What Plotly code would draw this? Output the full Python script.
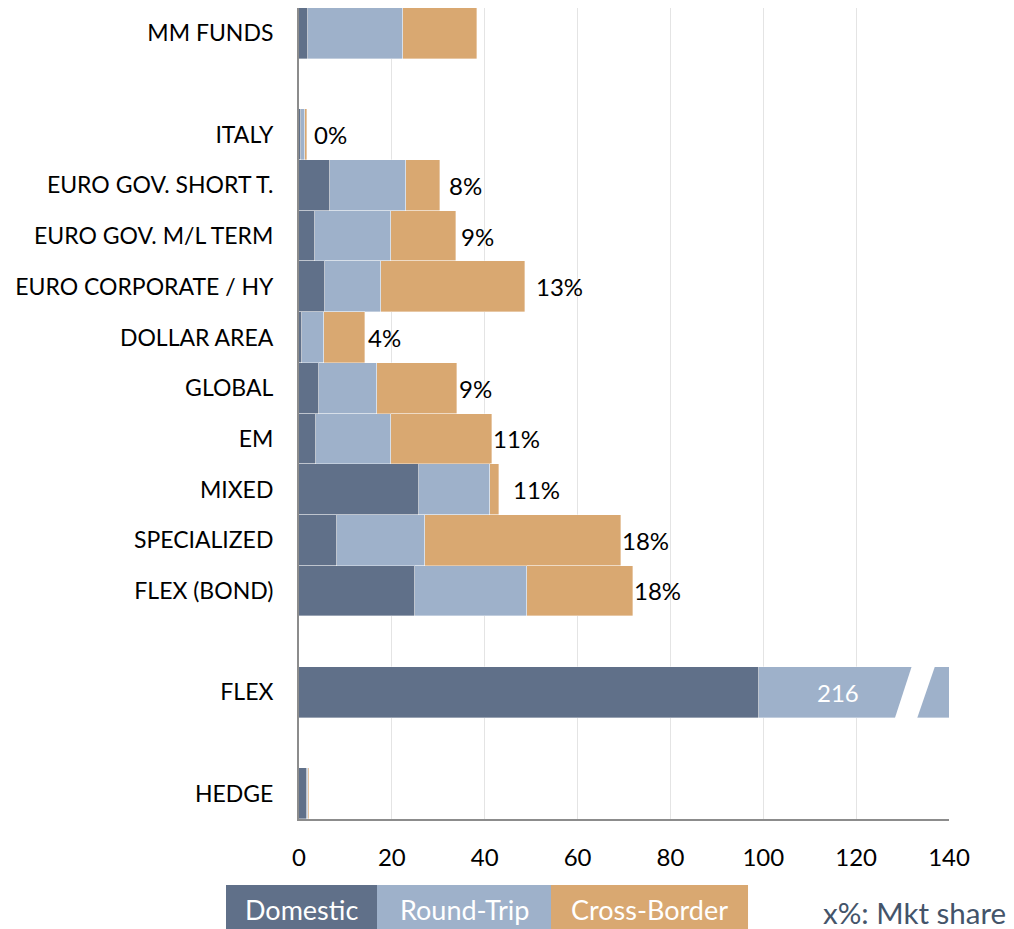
import plotly.graph_objects as go

# --- data ---
categories = ["MM FUNDS", "ITALY", "EURO GOV. SHORT T.", "EURO GOV. M/L TERM",
              "EURO CORPORATE / HY", "DOLLAR AREA", "GLOBAL", "EM", "MIXED",
              "SPECIALIZED", "FLEX (BOND)", "FLEX", "HEDGE"]
domestic = [1.9, 0.4, 6.7, 3.4, 5.6, 0.6, 4.4, 3.7, 25.8, 8.2, 25.0, 99.1, 1.8]
round_trip = [20.5, 0.95, 16.3, 16.4, 12.0, 4.7, 12.3, 16.1, 15.4, 19.0, 24.2, 116.9, 0.1]
cross_border = [16.0, 0.35, 7.3, 14.0, 31.1, 8.9, 17.3, 21.8, 1.9, 42.1, 22.7, 0.0, 0.3]
mkt_share = [None, "0%", "8%", "9%", "13%", "4%", "9%", "11%", "11%", "18%", "18%", None, None]
flex_label = "216"
series_names = ["Domestic", "Round-Trip", "Cross-Border"]

# --- layout / style ---
COLORS = ["#607089", "#9EB1CA", "#D9A871"]
FONT = "Lato"
gap_after = {"MM FUNDS", "FLEX (BOND)", "FLEX"}
label_pad = [0, 5, 7, 3, 9, 1, 0, -1, 12, -1, -1, 0, 0]  # px after bar end
X_MAX = 140
BREAK_X = 130  # where the FLEX bar is broken

# slot positions with blank rows between groups
ypos = []
slot = 0
for c in categories:
    ypos.append(slot)
    slot += 2 if c in gap_after else 1
n_slots = slot

fig = go.Figure()
for name, vals, col in zip(series_names, [domestic, round_trip, cross_border], COLORS):
    fig.add_trace(go.Bar(
        y=ypos, x=vals, name=name, orientation="h", width=1.0,
        marker=dict(color=col, line=dict(color="rgba(255,255,255,0.6)", width=0.6)),
        showlegend=False, hoverinfo="x+name"
    ))

totals = [d + r + c for d, r, c in zip(domestic, round_trip, cross_border)]
annotations = []
for y, tot, txt, pad in zip(ypos, totals, mkt_share, label_pad):
    if txt is None:
        continue
    annotations.append(dict(x=tot, y=y, text=txt, showarrow=False, xanchor="left",
                            xshift=pad, font=dict(family=FONT, size=24, color="#000000")))

# FLEX: broken bar with the real total written inside
i_flex = categories.index("FLEX")
yf = ypos[i_flex]
fig.add_shape(type="path", xref="x", yref="y", layer="above",
              path=(f"M {BREAK_X - 1.7},{yf + 0.52} L {BREAK_X + 2.0},{yf - 0.52} "
                    f"L {BREAK_X + 7.0},{yf - 0.52} L {BREAK_X + 3.1},{yf + 0.52} Z"),
              fillcolor="white", line=dict(width=0))
annotations.append(dict(x=(domestic[i_flex] + BREAK_X) / 2 + 1.5, y=yf, text=flex_label,
                        showarrow=False, xanchor="center",
                        font=dict(family=FONT, size=24, color="white")))

# legend drawn as coloured boxes under the chart (paper coords)
leg_edges = [-0.1123, 0.12, 0.3877, 0.6908]
for k, (name, col) in enumerate(zip(series_names, COLORS)):
    fig.add_shape(type="rect", xref="paper", yref="paper",
                  x0=leg_edges[k], x1=leg_edges[k + 1], y0=-0.0814, y1=-0.15,
                  fillcolor=col, line=dict(width=0))
    annotations.append(dict(xref="paper", yref="paper", x=(leg_edges[k] + leg_edges[k + 1]) / 2,
                            y=-0.1122, text=name, showarrow=False, xanchor="center",
                            yanchor="middle", font=dict(family=FONT, size=27, color="white")))
annotations.append(dict(xref="paper", yref="paper", x=1.0908, y=-0.1147, xanchor="right",
                        yanchor="middle", text="x%: Mkt share", showarrow=False,
                        font=dict(family=FONT, size=29.5, color="#44546A")))

# page body adds an 8px offset, margins compensate for it
fig.update_layout(
    barmode="stack", bargap=0,
    width=1014, height=929,
    margin=dict(l=291, r=73, t=0, b=118, autoexpand=False),
    plot_bgcolor="white", paper_bgcolor="white",
    font=dict(family=FONT, size=24, color="#000000"),
    annotations=annotations,
    xaxis=dict(range=[0, X_MAX], dtick=20, showgrid=True, gridcolor="#E4E4E4", gridwidth=1,
               zeroline=False, showline=True, linecolor="#8C8C8C", linewidth=2,
               ticks="", ticklabelstandoff=16, tickfont=dict(size=24), automargin=False),
    yaxis=dict(range=[n_slots - 0.5, -0.5], tickvals=ypos, ticktext=categories,
               showgrid=False, zeroline=False, showline=True, linecolor="#8C8C8C", linewidth=2,
               ticks="", ticklabelstandoff=19, tickfont=dict(size=23), automargin=False),
)

fig.write_html("out.html")
